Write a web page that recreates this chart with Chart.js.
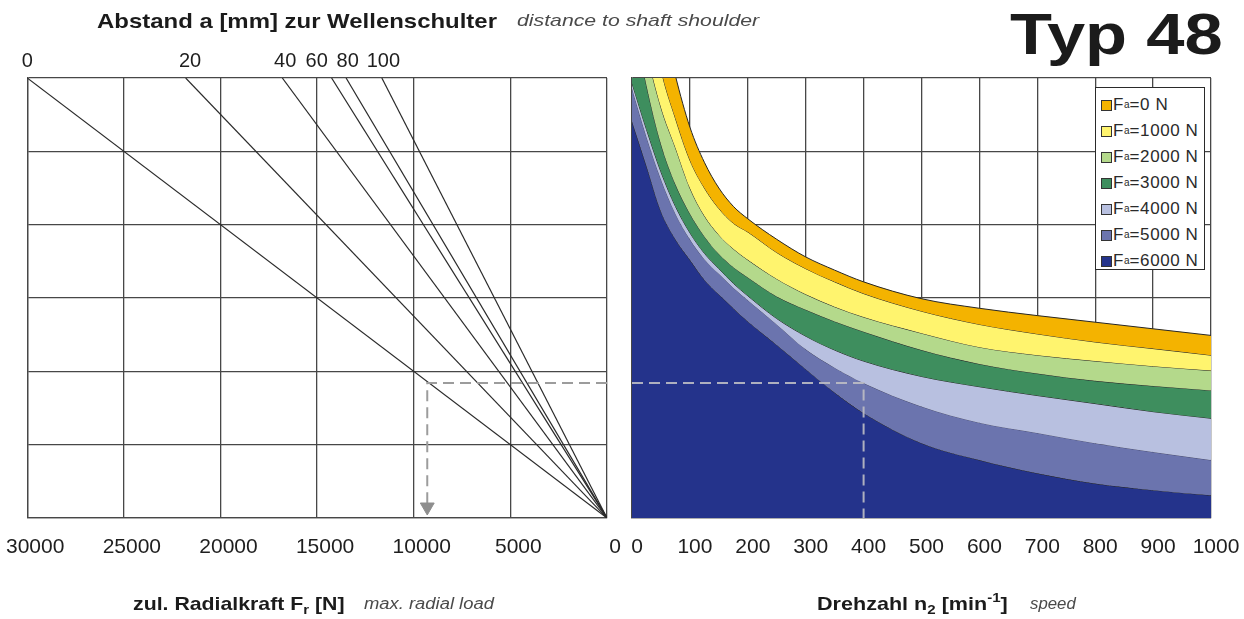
<!DOCTYPE html>
<html>
<head>
<meta charset="utf-8">
<script src="https://cdn.jsdelivr.net/npm/chart.js@4.4.1/dist/chart.umd.min.js"></script>
<style>
html,body{margin:0;padding:0;background:#fff;}
body{width:1244px;height:619px;position:relative;overflow:hidden;font-family:"Liberation Sans",Arial,sans-serif;color:#1b1b1b;}
canvas{position:absolute;top:0;}
#cL{left:-2px;}
#cR{left:620px;}
.t{position:absolute;white-space:nowrap;line-height:1;transform-origin:0 50%;}
.b{font-weight:bold;}
.i{font-style:italic;color:#4a4a4a;}
#legend{position:absolute;left:1095px;top:87px;width:110px;height:183px;border:1.5px solid #2a2a2a;background:#fff;box-sizing:border-box;padding-top:4px;}
#legend .row{height:26px;display:flex;align-items:center;font-size:17px;letter-spacing:0.6px;color:#2a2a2a;padding-left:5px;}
#legend .sw{display:inline-block;width:9px;height:9px;border:1px solid #333;margin-right:1px;}
#legend sub{font-size:10px;vertical-align:-4px;letter-spacing:0;}
sub{font-size:70%;vertical-align:-4px;line-height:0;}
sup{font-size:70%;vertical-align:8px;line-height:0;}
</style>
</head>
<body>
<canvas id="cL" width="632" height="619"></canvas>
<canvas id="cR" width="624" height="619"></canvas>

<div class="t b" style="left:97px;top:10px;font-size:21px;transform:scaleX(1.14);">Abstand a [mm] zur Wellenschulter</div>
<div class="t i" style="left:517px;top:12px;font-size:17px;transform:scaleX(1.25);">distance to shaft shoulder</div>
<div class="t b" style="left:1010px;top:4.5px;font-size:58px;transform:scaleX(1.185);">Typ 48</div>
<div class="t b" style="left:133px;top:594px;font-size:19px;transform:scaleX(1.12);">zul. Radialkraft F<sub>r</sub> [N]</div>
<div class="t i" style="left:364px;top:596px;font-size:16px;transform:scaleX(1.15);">max. radial load</div>
<div class="t b" style="left:817px;top:594px;font-size:19px;transform:scaleX(1.135);">Drehzahl n<sub>2</sub> [min<sup>-1</sup>]</div>
<div class="t i" style="left:1030px;top:596px;font-size:16px;transform:scaleX(1.05);">speed</div>
<div id="legend"></div>

<script>
// ---- left panel: distance lines ----
const distanceLabels = [0, 20, 40, 60, 80, 100];                    // a [mm]
const radialLoadAtTop = [30000, 21800, 16800, 14250, 13500, 11650]; // Fr [N] where each a-line meets the top grid line
const distanceLabelAt = [30000, 21570, 16650, 15020, 13420, 11570]; // Fr [N] above which each a label is printed
const radialTicks = [30000, 25000, 20000, 15000, 10000, 5000, 0];
const levelMax = 6;                                                  // shared vertical grid (6 rows)

// ---- right panel: load curves vs. speed ----
const speeds = [0, 25, 50, 75, 100, 125, 150, 175, 200, 250, 300, 350, 400, 500, 600, 700, 800, 900, 1000];
const fa0    = [9.00, 8.00, 6.90, 6.03, 5.33, 4.85, 4.50, 4.25, 4.08, 3.80, 3.56, 3.38, 3.22, 2.99, 2.86, 2.76, 2.67, 2.58, 2.49];
const fa1000 = [8.30, 7.20, 6.12, 5.45, 4.88, 4.50, 4.22, 4.02, 3.90, 3.62, 3.40, 3.22, 3.06, 2.82, 2.64, 2.51, 2.40, 2.31, 2.22];
const fa2000 = [7.60, 6.40, 5.60, 5.05, 4.50, 4.12, 3.86, 3.67, 3.52, 3.26, 3.05, 2.88, 2.74, 2.52, 2.33, 2.22, 2.14, 2.07, 2.01];
const fa3000 = [6.90, 5.90, 5.10, 4.55, 4.15, 3.84, 3.60, 3.42, 3.28, 3.02, 2.84, 2.68, 2.54, 2.29, 2.10, 1.97, 1.87, 1.80, 1.74];
const fa4000 = [5.93, 5.30, 4.72, 4.25, 3.89, 3.61, 3.40, 3.20, 3.03, 2.72, 2.48, 2.29, 2.14, 1.93, 1.79, 1.67, 1.56, 1.45, 1.36];
const fa5000 = [5.86, 5.20, 4.62, 4.15, 3.80, 3.53, 3.33, 3.14, 2.97, 2.64, 2.30, 2.05, 1.84, 1.52, 1.30, 1.16, 1.02, 0.90, 0.79];
const fa6000 = [5.41, 4.80, 4.18, 3.80, 3.52, 3.25, 3.05, 2.86, 2.68, 2.36, 2.03, 1.71, 1.43, 1.02, 0.79, 0.61, 0.47, 0.38, 0.31];
const axialLoads = [0, 1000, 2000, 3000, 4000, 5000, 6000];
const faColors = ['#F4B300', '#FFF46E', '#B4D98B', '#3E8E5E', '#B8C0E0', '#6B74AE', '#24338B'];

// example reading (dashed)
const exampleSpeed = 400;
const exampleLevel = 1.84;
const exampleRadial = 9300;

const faSeries = [fa0, fa1000, fa2000, fa3000, fa4000, fa5000, fa6000];
const FONT = "'Liberation Sans', Arial, sans-serif";
const gridCol = '#474747';

function bottomAxis(extra) {
  return Object.assign({
    afterFit: s => { s.height = 45; },
    grid: {color: gridCol, lineWidth: 1.3, drawTicks: true, tickLength: 17, tickColor: 'rgba(0,0,0,0)'},
    border: {color: gridCol, width: 1.3}
  }, extra);
}
const yAxis = {
  min: 0, max: levelMax,
  ticks: {display: false, stepSize: 1},
  grid: {color: gridCol, lineWidth: 1.3, drawTicks: false},
  border: {color: gridCol, width: 1.3},
  afterFit: s => { s.width = 0; }
};

// ---------- LEFT CHART ----------
const leftDatasets = distanceLabels.map((a, i) => ({
  label: 'a=' + a,
  data: [{x: 0, y: 0}, {x: radialLoadAtTop[i], y: levelMax}],
  showLine: true, borderColor: '#2a2a2a', borderWidth: 1.2, pointRadius: 0
}));
leftDatasets.push({
  label: 'example',
  data: [{x: 0, y: exampleLevel}, {x: exampleRadial, y: exampleLevel}, {x: exampleRadial, y: 0.2}],
  showLine: true, borderColor: '#9c9c9c', borderWidth: 2, borderDash: [11, 6], pointRadius: 0, order: -1
});
leftDatasets.push({
  label: 'arrow',
  data: [{x: exampleRadial, y: 0.15}],
  showLine: false, pointStyle: 'triangle', rotation: 180, pointRadius: 8,
  backgroundColor: '#8e8e8e', borderColor: '#8e8e8e', borderWidth: 1, order: -2
});

new Chart(document.getElementById('cL'), {
  type: 'scatter',
  data: {datasets: leftDatasets},
  options: {
    responsive: false, animation: false, devicePixelRatio: 1,
    layout: {padding: {left: 27, right: 23, top: 40, bottom: 56}},
    plugins: {legend: {display: false}, tooltip: {enabled: false}},
    scales: {
      x: bottomAxis({
        type: 'linear', reverse: true, min: 0, max: 30000, position: 'bottom',
        afterBuildTicks: s => { s.ticks = radialTicks.map(v => ({value: v})); },
        ticks: {autoSkip: false, maxRotation: 0, padding: 0, labelOffset: 8, color: '#1e1e1e',
                font: {family: FONT, size: 21}, callback: v => String(v)}
      }),
      xTop: {
        type: 'linear', reverse: true, min: 0, max: 30000, position: 'top',
        afterBuildTicks: s => { s.ticks = distanceLabelAt.map(v => ({value: v})); },
        ticks: {autoSkip: false, maxRotation: 0, minRotation: 0, padding: 5, color: '#1e1e1e',
                font: {family: FONT, size: 20}, callback: (v, i) => String(distanceLabels[i])},
        grid: {display: false, drawTicks: false},
        border: {display: false},
        afterFit: s => { s.height = 38; }
      },
      y: yAxis
    }
  }
});

// ---------- RIGHT CHART ----------
const rightDatasets = faSeries.map((vals, i) => ({
  label: 'Fa=' + axialLoads[i] + ' N',
  data: speeds.map((s, j) => ({x: s, y: vals[j]})),
  fill: i < faSeries.length - 1 ? '+1' : 'origin',
  backgroundColor: faColors[i],
  borderColor: i === 5 ? 'rgba(40,40,60,0.55)' : '#262626',
  borderWidth: 1,
  pointRadius: 0,
  cubicInterpolationMode: 'monotone'
}));
rightDatasets.push({
  label: 'example',
  data: [{x: 0, y: exampleLevel}, {x: exampleSpeed, y: exampleLevel}, {x: exampleSpeed, y: 0}],
  fill: false, borderColor: 'rgba(190,190,196,0.9)', borderWidth: 2, borderDash: [11, 6],
  pointRadius: 0, order: -1
});

const rightChart = new Chart(document.getElementById('cR'), {
  type: 'line',
  data: {datasets: rightDatasets},
  options: {
    responsive: false, animation: false, devicePixelRatio: 1,
    layout: {padding: {left: 12, right: 33, top: 78, bottom: 56}},
    plugins: {legend: {display: false}, tooltip: {enabled: false}},
    scales: {
      x: bottomAxis({
        type: 'linear', min: 0, max: 1000,
        ticks: {stepSize: 100, autoSkip: false, maxRotation: 0, padding: 0, labelOffset: 5, color: '#1e1e1e',
                font: {family: FONT, size: 21}, callback: v => String(v)}
      }),
      y: yAxis
    }
  }
});

// HTML legend built from the chart's datasets
const legendEl = document.getElementById('legend');
rightChart.data.datasets.slice(0, axialLoads.length).forEach((ds, i) => {
  const row = document.createElement('div');
  row.className = 'row';
  row.innerHTML = '<span class="sw" style="background:' + ds.backgroundColor + '"></span>F<sub>a</sub>=' + axialLoads[i] + ' N';
  legendEl.appendChild(row);
});
</script>
</body>
</html>
